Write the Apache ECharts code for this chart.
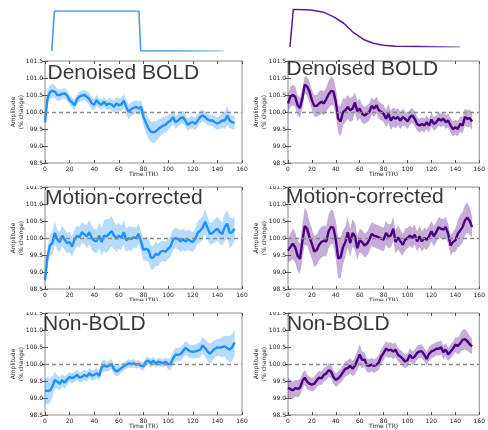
<!DOCTYPE html>
<html><head><meta charset="utf-8">
<script src="https://cdn.jsdelivr.net/npm/echarts@6/dist/echarts.min.js"></script>
<style>html,body{margin:0;padding:0;background:#fff}#c{width:488px;height:430px}</style>
</head><body><div id="c"></div>
<script>
// ---------------- DATA ----------------
const times = [0,2,4,6,8,10,12,14,16,18,20,22,24,26,28,30,32,34,36,38,40,42,44,46,48,50,52,54,56,58,60,62,64,66,68,70,72,74,76,78,80,82,84,86,88,90,92,94,96,98,100,102,104,106,108,110,112,114,116,118,120,122,124,126,128,130,132,134,136,138,140,142,144,146,148,150,152,154];
const xTicks = [0,20,40,60,80,100,120,140,160];
const yTicks = [98.5,99.0,99.5,100.0,100.5,101.0,101.5];
const panelTitles = ['Denoised BOLD','Denoised BOLD','Motion-corrected','Motion-corrected','Non-BOLD','Non-BOLD'];

const denoisedBox = [99.70,100.40,100.58,100.62,100.60,100.50,100.50,100.53,100.55,100.48,
 100.35,100.28,100.20,100.38,100.45,100.48,100.50,100.45,100.38,100.25,
 100.22,100.35,100.25,100.22,100.30,100.20,100.25,100.22,100.15,100.25,
 100.20,100.22,100.33,100.15,100.00,100.08,100.12,100.15,100.10,100.15,
 99.85,99.68,99.52,99.42,99.40,99.43,99.50,99.55,99.60,99.63,
 99.70,99.75,99.85,99.70,99.75,99.82,99.85,99.75,99.62,99.68,
 99.70,99.65,99.75,99.85,99.90,99.85,99.78,99.75,99.75,99.70,
 99.66,99.70,99.75,99.75,99.90,99.75,99.70,99.68];
const denoisedBoxErr = [0.15,0.20,0.20,0.20,0.18,0.18,0.16,0.15,0.15,0.15,
 0.15,0.15,0.16,0.15,0.15,0.15,0.15,0.16,0.18,0.18,
 0.16,0.16,0.15,0.15,0.15,0.15,0.16,0.18,0.18,0.20,
 0.20,0.20,0.20,0.22,0.22,0.20,0.20,0.20,0.20,0.20,
 0.25,0.28,0.30,0.30,0.32,0.30,0.28,0.25,0.25,0.24,
 0.22,0.20,0.20,0.20,0.18,0.18,0.18,0.18,0.18,0.18,
 0.18,0.18,0.18,0.18,0.18,0.16,0.16,0.16,0.18,0.18,
 0.18,0.20,0.22,0.25,0.28,0.22,0.20,0.20];

const denoisedDecay = [100.25,100.45,100.50,100.45,100.20,100.12,100.40,100.80,100.75,100.60,
 100.35,100.18,100.18,100.25,100.30,100.25,100.38,100.52,100.62,100.60,
 100.30,99.80,99.72,100.00,100.05,100.15,100.05,100.10,100.28,100.02,
 100.10,99.95,99.90,99.95,100.00,100.18,100.10,100.20,100.05,100.00,
 99.95,99.80,99.95,99.75,99.85,99.80,99.85,99.75,99.85,99.80,
 99.72,99.85,99.90,99.80,99.65,99.60,99.65,99.60,99.70,99.60,
 99.78,99.65,99.70,99.80,99.75,99.80,99.70,99.75,99.60,99.50,
 99.55,99.50,99.65,99.60,99.85,99.80,99.82,99.72];
const denoisedDecayErr = [0.25,0.30,0.30,0.30,0.30,0.30,0.30,0.25,0.28,0.30,
 0.30,0.32,0.32,0.35,0.35,0.35,0.35,0.40,0.42,0.40,
 0.40,0.40,0.45,0.40,0.35,0.35,0.35,0.35,0.30,0.30,
 0.28,0.28,0.25,0.25,0.25,0.25,0.25,0.25,0.25,0.25,
 0.25,0.25,0.28,0.28,0.28,0.28,0.25,0.25,0.25,0.22,
 0.22,0.22,0.22,0.22,0.20,0.20,0.20,0.20,0.20,0.20,
 0.20,0.20,0.20,0.20,0.20,0.20,0.20,0.20,0.22,0.22,
 0.22,0.22,0.22,0.25,0.25,0.25,0.25,0.25];

const motionBox = [98.75,99.45,99.78,99.85,100.15,99.95,99.88,100.07,99.95,99.85,
 99.88,99.75,99.95,100.07,100.02,100.17,100.10,100.05,100.17,100.00,
 99.92,99.90,100.07,99.88,100.07,100.05,100.12,100.20,100.08,99.98,
 100.07,100.00,100.17,99.93,100.00,99.97,100.02,100.00,100.12,99.90,
 99.65,99.68,99.65,99.42,99.43,99.53,99.50,99.60,99.62,99.60,
 99.68,99.75,99.95,100.00,99.97,99.90,99.97,99.90,99.95,99.92,
 99.88,99.98,100.15,100.22,100.30,100.48,100.30,100.12,100.15,100.22,
 100.27,100.17,100.12,100.32,100.42,100.15,100.17,100.27];
const motionBoxErr = [0.15,0.25,0.30,0.35,0.35,0.30,0.30,0.30,0.30,0.30,
 0.30,0.30,0.30,0.30,0.30,0.30,0.30,0.35,0.35,0.35,
 0.35,0.35,0.38,0.40,0.45,0.50,0.45,0.45,0.40,0.40,
 0.38,0.35,0.35,0.35,0.35,0.35,0.30,0.30,0.30,0.30,
 0.32,0.35,0.35,0.35,0.35,0.35,0.32,0.30,0.30,0.30,
 0.30,0.30,0.30,0.30,0.30,0.32,0.32,0.30,0.30,0.30,
 0.30,0.30,0.32,0.35,0.35,0.38,0.35,0.32,0.32,0.35,
 0.35,0.35,0.35,0.40,0.40,0.45,0.40,0.35];

const motionDecay = [99.63,99.73,99.83,99.73,99.48,99.39,99.90,100.35,100.27,100.02,
 99.83,99.60,99.65,99.80,99.88,99.92,99.90,100.20,100.33,100.30,
 99.95,99.40,99.43,99.73,99.88,100.17,99.85,100.15,100.05,99.70,
 99.93,99.88,99.78,99.83,99.95,100.12,100.07,100.05,100.02,99.98,
 99.95,100.15,100.05,100.07,100.27,99.88,100.02,99.90,99.80,99.95,
 100.00,100.07,100.00,100.10,99.90,100.05,99.90,100.00,99.95,100.05,
 100.20,100.05,100.17,100.32,100.27,100.25,100.32,100.12,99.78,99.88,
 99.93,100.12,100.22,100.32,100.52,100.60,100.50,100.32];
const motionDecayErr = [0.35,0.40,0.45,0.45,0.45,0.45,0.50,0.55,0.50,0.45,
 0.45,0.45,0.45,0.45,0.45,0.45,0.45,0.50,0.50,0.50,
 0.55,0.60,0.60,0.50,0.45,0.45,0.40,0.40,0.40,0.35,
 0.35,0.35,0.35,0.35,0.35,0.35,0.35,0.35,0.35,0.35,
 0.35,0.35,0.35,0.35,0.35,0.35,0.35,0.35,0.32,0.32,
 0.30,0.30,0.30,0.30,0.30,0.30,0.30,0.30,0.30,0.30,
 0.30,0.30,0.30,0.30,0.30,0.30,0.30,0.30,0.30,0.30,
 0.35,0.40,0.45,0.45,0.45,0.45,0.40,0.30];

const nonBoldBox = [99.22,99.21,99.22,99.34,99.53,99.48,99.42,99.52,99.45,99.55,
 99.62,99.58,99.62,99.68,99.60,99.62,99.68,99.63,99.73,99.66,
 99.68,99.73,99.65,99.90,99.96,99.92,99.95,100.00,99.85,99.78,
 99.82,99.88,99.93,99.98,100.02,100.00,100.02,99.98,100.00,99.95,
 99.93,100.07,100.10,100.02,100.10,100.00,100.07,100.05,100.02,100.07,
 99.99,100.00,100.17,100.27,100.27,100.29,100.37,100.47,100.42,100.37,
 100.36,100.37,100.39,100.42,100.55,100.47,100.37,100.30,100.38,100.45,
 100.49,100.48,100.50,100.52,100.47,100.42,100.49,100.64];
const nonBoldBoxErr = [0.35,0.40,0.35,0.30,0.25,0.20,0.20,0.18,0.18,0.15,
 0.15,0.15,0.15,0.15,0.15,0.15,0.15,0.15,0.15,0.15,
 0.15,0.15,0.15,0.18,0.18,0.15,0.15,0.15,0.15,0.15,
 0.15,0.12,0.12,0.12,0.12,0.12,0.12,0.12,0.12,0.12,
 0.12,0.12,0.12,0.12,0.12,0.12,0.12,0.12,0.12,0.12,
 0.15,0.18,0.20,0.20,0.20,0.20,0.20,0.20,0.20,0.20,
 0.20,0.20,0.22,0.22,0.25,0.25,0.28,0.30,0.28,0.25,
 0.25,0.25,0.30,0.30,0.35,0.40,0.40,0.38];

const nonBoldDecay = [99.30,99.26,99.22,99.29,99.27,99.30,99.50,99.60,99.48,99.42,
 99.39,99.42,99.52,99.60,99.58,99.68,99.72,99.82,99.78,99.62,
 99.53,99.58,99.65,99.76,99.86,99.88,99.95,99.86,99.95,100.12,
 100.28,100.12,100.13,99.96,99.95,99.98,99.94,99.98,100.05,100.22,
 100.33,100.45,100.40,100.42,100.37,100.42,100.27,100.22,100.15,100.07,
 100.12,100.27,100.17,100.22,100.33,100.37,100.37,100.27,100.15,100.30,
 100.37,100.40,100.45,100.45,100.49,100.35,100.42,100.28,100.37,100.45,
 100.57,100.53,100.60,100.71,100.73,100.67,100.58,100.52];
const nonBoldDecayErr = [0.30,0.28,0.25,0.25,0.25,0.25,0.22,0.22,0.22,0.20,
 0.20,0.20,0.20,0.20,0.20,0.20,0.20,0.20,0.20,0.20,
 0.20,0.20,0.20,0.22,0.22,0.22,0.22,0.22,0.25,0.28,
 0.30,0.25,0.22,0.20,0.20,0.20,0.20,0.20,0.22,0.22,
 0.22,0.22,0.22,0.22,0.22,0.22,0.20,0.20,0.20,0.20,
 0.20,0.20,0.20,0.20,0.20,0.20,0.20,0.20,0.20,0.20,
 0.20,0.20,0.20,0.20,0.20,0.20,0.20,0.20,0.20,0.20,
 0.22,0.25,0.28,0.30,0.30,0.28,0.25,0.22];

// stimulus waveforms (time in TR, normalised amplitude)
const stimBoxT = [5.5,7.6,76.3,77.7,145];
const stimBoxV = [0,1,1,0,0];
const stimDecayT = [1.6,4.3,18.3,29,37,45,53,61,69,77,87,139];
const stimDecayV = [0,1,0.98,0.92,0.8,0.63,0.38,0.2,0.1,0.045,0.02,0];

// ---------------- CHART ----------------
const BLUE = '#1e90ff', PURPLE = '#4b0082';
const BLUE_BAND = 'rgba(30,144,255,0.32)', PURPLE_BAND = 'rgba(75,0,130,0.32)';
const colX = [45, 288], colW = [197, 198];
const rowTop = [61, 187, 313], rowH = 102;
const titlePos = [[47.5,63],[286.5,59],[45,188],[286,187],[43,314],[287,314]];
const panels = [
  {mean: denoisedBox, err: denoisedBoxErr, c: BLUE, b: BLUE_BAND},
  {mean: denoisedDecay, err: denoisedDecayErr, c: PURPLE, b: PURPLE_BAND},
  {mean: motionBox, err: motionBoxErr, c: BLUE, b: BLUE_BAND},
  {mean: motionDecay, err: motionDecayErr, c: PURPLE, b: PURPLE_BAND},
  {mean: nonBoldBox, err: nonBoldBoxErr, c: BLUE, b: BLUE_BAND},
  {mean: nonBoldDecay, err: nonBoldDecayErr, c: PURPLE, b: PURPLE_BAND}
];
const FONT = 'DejaVu Sans';
const grid = [], xAxis = [], yAxis = [], series = [], title = [];
const tick = {inside: true, length: 3, lineStyle: {color: '#555', width: 1}};

panels.forEach((p, i) => {
  const col = i % 2, row = Math.floor(i / 2);
  grid.push({left: colX[col], top: rowTop[row], width: colW[col], height: rowH,
    show: true, borderColor: '#8a8a8a', borderWidth: 1, backgroundColor: 'transparent', containLabel: false});
  xAxis.push({type: 'value', gridIndex: i, min: xTicks[0], max: xTicks[xTicks.length-1], interval: 20,
    name: 'Time (TR)', nameLocation: 'middle', nameGap: 8, nameMoveOverlap: false,
    nameTextStyle: {fontSize: 6, color: '#222', fontFamily: FONT},
    axisLine: {show: false}, axisTick: tick, splitLine: {show: false},
    axisLabel: {margin: 3, fontSize: 6, color: '#222', fontFamily: FONT}});
  xAxis.push({type: 'value', gridIndex: i, position: 'top', min: 0, max: 160, interval: 20,
    axisLine: {show: false}, axisTick: tick, axisLabel: {show: false}, splitLine: {show: false}});
  yAxis.push({type: 'value', gridIndex: i, min: yTicks[0], max: yTicks[yTicks.length-1], interval: 0.5,
    name: 'Amplitude\n(% change)', nameLocation: 'middle', nameGap: 20, nameRotate: 90, nameMoveOverlap: false,
    nameTextStyle: {fontSize: 6, color: '#222', fontFamily: FONT, lineHeight: 8},
    axisLine: {show: false}, axisTick: tick, splitLine: {show: false},
    axisLabel: {margin: 2, fontSize: 6, color: '#222', fontFamily: FONT, formatter: v => v.toFixed(1)}});
  yAxis.push({type: 'value', gridIndex: i, position: 'right', min: 98.5, max: 101.5, interval: 0.5,
    axisLine: {show: false}, axisTick: tick, axisLabel: {show: false}, splitLine: {show: false}});
  const xi = 2 * i, yi = 2 * i;
  const bandData = times.map((t, k) => [t, p.mean[k] - p.err[k], p.mean[k] + p.err[k]]);
  series.push({type: 'custom', xAxisIndex: xi, yAxisIndex: yi, silent: true, z: 1,
    encode: {x: 0, y: [1, 2]}, data: bandData,
    renderItem: (params, api) => {
      if (params.dataIndex !== 0) return null;
      const up = bandData.map(d => api.coord([d[0], d[2]]));
      const lo = bandData.map(d => api.coord([d[0], d[1]])).reverse();
      return {type: 'polygon', shape: {points: up.concat(lo)}, style: {fill: p.b}};
    }});
  series.push({type: 'line', xAxisIndex: xi, yAxisIndex: yi, symbol: 'none', silent: true, z: 2,
    data: [], markLine: {silent: true, symbol: 'none', label: {show: false},
      lineStyle: {type: [4, 3], color: '#8a8a8a', width: 1.3}, data: [{yAxis: 100}]}});
  series.push({type: 'line', xAxisIndex: xi, yAxisIndex: yi, symbol: 'none', silent: true,
    lineStyle: {color: p.c, width: 2.4}, data: times.map((t, k) => [t, p.mean[k]]), z: 3});
  title.push({text: panelTitles[i], left: titlePos[i][0], top: titlePos[i][1], padding: 0,
    textStyle: {fontSize: 21, fontWeight: 'normal', color: '#383838', fontFamily: 'Liberation Sans'}});
});

// stimulus grids
const stim = [
  {t: stimBoxT, v: stimBoxV, top: 11, h: 40, c0: '#3a96f2', c1: '#a9d2fa'},
  {t: stimDecayT, v: stimDecayV, top: 9.3, h: 37.7, c0: '#5a1a96', c1: '#b696d6'}
];
stim.forEach((s, j) => {
  const gi = 6 + j;
  grid.push({left: colX[j], top: s.top, width: colW[j], height: s.h, show: false});
  xAxis.push({type: 'value', gridIndex: gi, min: 0, max: 160, show: false});
  xAxis.push({type: 'value', gridIndex: gi, min: 0, max: 160, show: false});
  yAxis.push({type: 'value', gridIndex: gi, min: 0, max: 1, show: false});
  yAxis.push({type: 'value', gridIndex: gi, min: 0, max: 1, show: false});
  series.push({type: 'line', xAxisIndex: 2 * gi, yAxisIndex: 2 * gi, symbol: 'none', silent: true,
    lineStyle: {width: 1.5, color: new echarts.graphic.LinearGradient(0, 0, 1, 0,
      [{offset: 0, color: s.c0}, {offset: 0.75, color: s.c0}, {offset: 1, color: s.c1}])},
    data: s.t.map((t, k) => [t, s.v[k]])});
});

const chart = echarts.init(document.getElementById('c'), null, {renderer: 'canvas'});
chart.setOption({
  animation: false,
  backgroundColor: '#fff',
  title, grid, xAxis, yAxis, series,
  graphic: [
    {type: 'rect', z: 100, shape: {x: 0, y: 176, width: 488, height: 10}, style: {fill: '#fff'}},
    {type: 'rect', z: 100, shape: {x: 0, y: 301, width: 488, height: 11}, style: {fill: '#fff'}}
  ]
});
</script></body></html>
